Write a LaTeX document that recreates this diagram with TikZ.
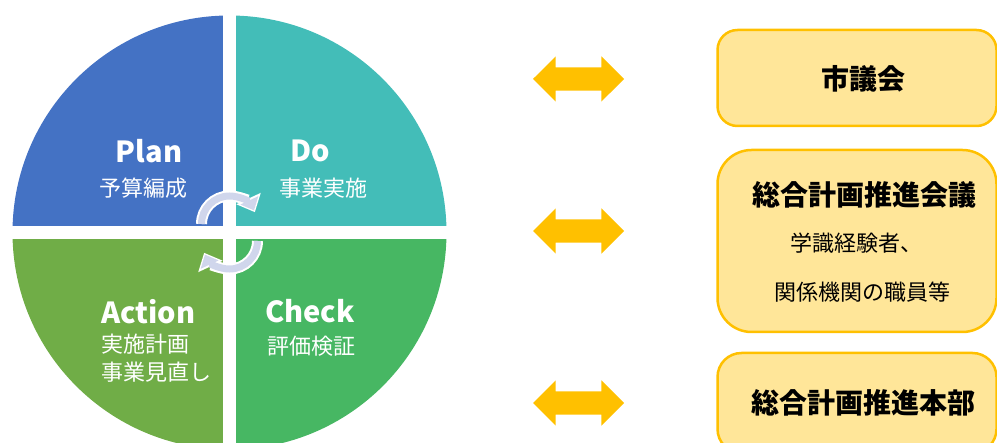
\documentclass[tikz,border=0pt]{standalone}
\usepackage{fontspec}
\setmainfont{Noto Sans CJK JP}
\usepackage{xcolor}
\usetikzlibrary{arrows.meta,shapes.arrows}

\definecolor{plancol}{HTML}{4472C4}
\definecolor{docol}{HTML}{43BDB8}
\definecolor{actcol}{HTML}{70AD47}
\definecolor{checkcol}{HTML}{47B763}
\definecolor{cyclecol}{HTML}{D0D6EC}
\definecolor{gold}{HTML}{FFC000}
\definecolor{boxfill}{HTML}{FFE699}

\begin{document}
\begin{tikzpicture}[x=1pt,y=-1pt,
    phase/.style={font=\fontsize{29}{32}\selectfont\bfseries,text=white,inner sep=0pt},
    task/.style={font=\fontsize{22}{24}\selectfont,text=white,inner sep=0pt},
    both way/.style={double arrow,fill=gold,minimum height=91pt,minimum width=45pt,
        inner xsep=0pt,inner ysep=11.5pt,double arrow head extend=11pt},
    body box/.style={draw=gold,fill=boxfill,line width=2.5pt,minimum width=279pt,inner sep=0pt},
    head/.style={font=\fontsize{28}{30}\selectfont\bfseries,inner sep=0pt},
    member/.style={font=\fontsize{22}{24}\selectfont,inner sep=0pt},
    cyc out/.style={white,line width=11pt,-{Triangle[width=26pt,length=15pt]}},
    cyc in/.style={cyclecol,line width=7pt,shorten >=2pt,-{Triangle[width=19pt,length=11pt]}}]
    \useasboundingbox (0,0) rectangle (997,443);

    % PDCA circle
    \coordinate (c) at (229.5,232.5);
    \fill[plancol] (c) -- ++(180:217) arc (180:270:217) -- cycle;
    \fill[docol] (c) -- ++(270:217) arc (270:360:217) -- cycle;
    \fill[checkcol] (c) -- ++(0:217) arc (0:90:217) -- cycle;
    \fill[actcol] (c) -- ++(90:217) arc (90:180:217) -- cycle;
    \draw[white,line width=13pt] (229.5,0) -- (229.5,460);
    \draw[white,line width=13pt] (0,232.5) -- (460,232.5);

    \node[phase] (plan) at (149,151) {Plan};
    \node[task] (plantask) at (143,188) {予算編成};
    \node[phase] (do) at (310,151) {Do};
    \node[task] (dotask) at (323,188) {事業実施};
    \node[phase,anchor=west] (action) at (101,312) {Action};
    \node[task,anchor=west] (acttask) at (101,344) {実施計画};
    \node[task,anchor=west] (acttask2) at (101,372) {事業見直し};
    \node[phase] (check) at (310,311) {Check};
    \node[task] (checktask) at (311,346) {評価検証};

    % cycle arrows
    \coordinate (up) at (229.5,224);
    \coordinate (down) at (229.5,241);
    \draw[cyc out] ([shift={(180:28)}]up) arc (180:335:28);
    \draw[cyc in] ([shift={(180:28)}]up) arc (180:335:28);
    \draw[cyc out] ([shift={(0:28)}]down) arc (0:155:28);
    \draw[cyc in] ([shift={(0:28)}]down) arc (0:155:28);

    % bodies
    \node[body box,rounded corners=20pt,minimum height=96pt] (council) at (857,78) {};
    \node[body box,rounded corners=34pt,minimum height=182pt] (meeting) at (857,241) {};
    \node[body box,rounded corners=24pt,minimum height=100pt] (hq) at (857,403) {};

    \node[head] (councilname) at (863,79) {市議会};
    \node[head] (meetingname) at (864,195) {総合計画推進会議};
    \node[member] (member1) at (856,243) {学識経験者、};
    \node[member] (member2) at (862,292) {関係機関の職員等};
    \node[head] (hqname) at (863,403) {総合計画推進本部};

    \node[both way] (link1) at (578.5,79) {};
    \node[both way] (link2) at (578.5,231) {};
    \node[both way] (link3) at (578.5,403) {};
\end{tikzpicture}
\end{document}
